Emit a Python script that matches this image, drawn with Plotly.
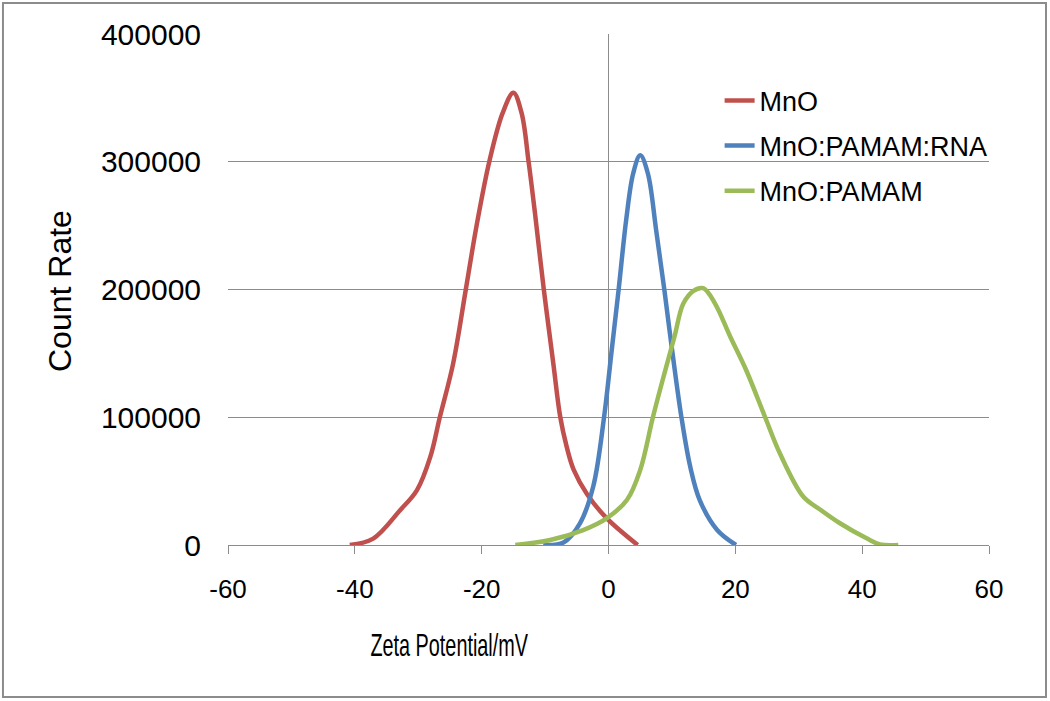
import plotly.graph_objects as go

# Zeta potential (mV) and count rate data
mno_x = [-40.8, -37.1, -32.9, -30.2, -28.1, -26.6, -24.5, -22.5, -20.8, -18.8, -16.7,
         -15.0, -13.7, -12.6, -11.6, -10.2, -8.7, -7.6, -6.6, -5.5, -3.4, -0.3, 4.6]
mno_y = [0, 5000, 27000, 43000, 69000, 100000, 142000, 200000, 250000, 300000, 338000,
         354000, 338000, 300000, 260000, 200000, 142000, 100000, 77000, 59000, 40000, 21000, 0]

rna_x = [-10.3, -7.1, -4.5, -2.4, -0.7, 0.45, 1.6, 2.8, 3.9, 5.0, 6.2, 7.5, 8.8, 10.1, 11.5,
         12.9, 14.4, 17.1, 20.1]
rna_y = [0, 2000, 17000, 46000, 100000, 150000, 200000, 255000, 291000, 305000, 291000, 247000,
         200000, 150000, 100000, 61000, 35000, 12000, 0]

pamam_x = [-14.7, -9.2, -4.0, -0.3, 2.9, 5.0, 7.0, 8.8, 10.4, 11.8, 13.4, 14.95, 16.8, 19.2,
           21.7, 24.7, 27.0, 30.7, 33.3, 36.5, 40.7, 42.8, 45.7]
pamam_y = [0, 3900, 11700, 20900, 35200, 58700, 100000, 134000, 163000, 189000, 199000, 201000,
           189000, 163000, 137000, 100000, 72000, 38000, 28000, 17000, 5200, 500, 0]

series_names = ["MnO", "MnO:PAMAM:RNA", "MnO:PAMAM"]
series_colors = ["#C0504D", "#4F81BD", "#9BBB59"]

x_ticks = [-60, -40, -20, 0, 20, 40, 60]
y_ticks = [0, 100000, 200000, 300000, 400000]

FONT = "Liberation Sans, Arial, sans-serif"
GRID = "#8C8C8C"

fig = go.Figure()
for i, (xs, ys) in enumerate([(mno_x, mno_y), (rna_x, rna_y), (pamam_x, pamam_y)]):
    fig.add_trace(go.Scatter(
        x=xs, y=ys, mode="lines", name=series_names[i], legendgroup=series_names[i],
        line=dict(color=series_colors[i], width=4.5, shape="spline", smoothing=1.0),
    ))

fig.update_layout(
    width=1050, height=701,
    margin=dict(l=228, r=61, t=34, b=156),
    paper_bgcolor="white", plot_bgcolor="white",
    font=dict(family=FONT, color="#000000"),
    showlegend=True,
    legend=dict(x=0.646, y=0.917, xanchor="left", yanchor="top",
                bgcolor="rgba(0,0,0,0)", borderwidth=0,
                font=dict(family=FONT, size=27, color="#000000"),
                tracegroupgap=7),
    xaxis=dict(range=[-60, 60], tickvals=x_ticks, ticktext=[str(v) for v in x_ticks],
               showgrid=False, zeroline=True, zerolinecolor=GRID, zerolinewidth=1,
               showline=True, linecolor=GRID, linewidth=1,
               ticks="outside", ticklen=8, tickcolor=GRID, tickwidth=1,
               ticklabelstandoff=13,
               tickfont=dict(family=FONT, size=26, color="#000000")),
    yaxis=dict(range=[0, 400000], tickvals=y_ticks, ticktext=[str(v) for v in y_ticks],
               showgrid=True, gridcolor=GRID, gridwidth=1, zeroline=False,
               showline=False, ticks="", ticklabelstandoff=26,
               tickfont=dict(family=FONT, size=30, color="#000000")),
    annotations=[
        dict(text="Zeta Potential/mV", xref="paper", yref="paper", x=0.2917, y=-0.1957,
             xanchor="center", yanchor="middle", showarrow=False,
             font=dict(family=FONT, size=32, color="#000000")),
        dict(text="Count Rate", xref="paper", yref="paper", x=-0.2208, y=0.497,
             xanchor="center", yanchor="middle", showarrow=False, textangle=-90,
             font=dict(family=FONT, size=32, color="#000000")),
    ],
    shapes=[
        dict(type="rect", xref="paper", yref="paper", x0=-0.2957, x1=1.0749, y0=-0.2975, y1=1.0607,
             line=dict(color="#8C8C8C", width=2), fillcolor="rgba(0,0,0,0)", layer="below"),
    ],
)

post_js = (
    "document.body.style.margin='0';document.body.style.overflow='hidden';"
    "var t=document.querySelector('.annotation[data-index=\"0\"] .annotation-text');"
    "if(t){t.style.transformBox='fill-box';t.style.transformOrigin='center';"
    "t.style.transform='scaleX(0.62)';}"
)

fig.write_html("out.html", config={"displayModeBar": False}, post_script=post_js)
